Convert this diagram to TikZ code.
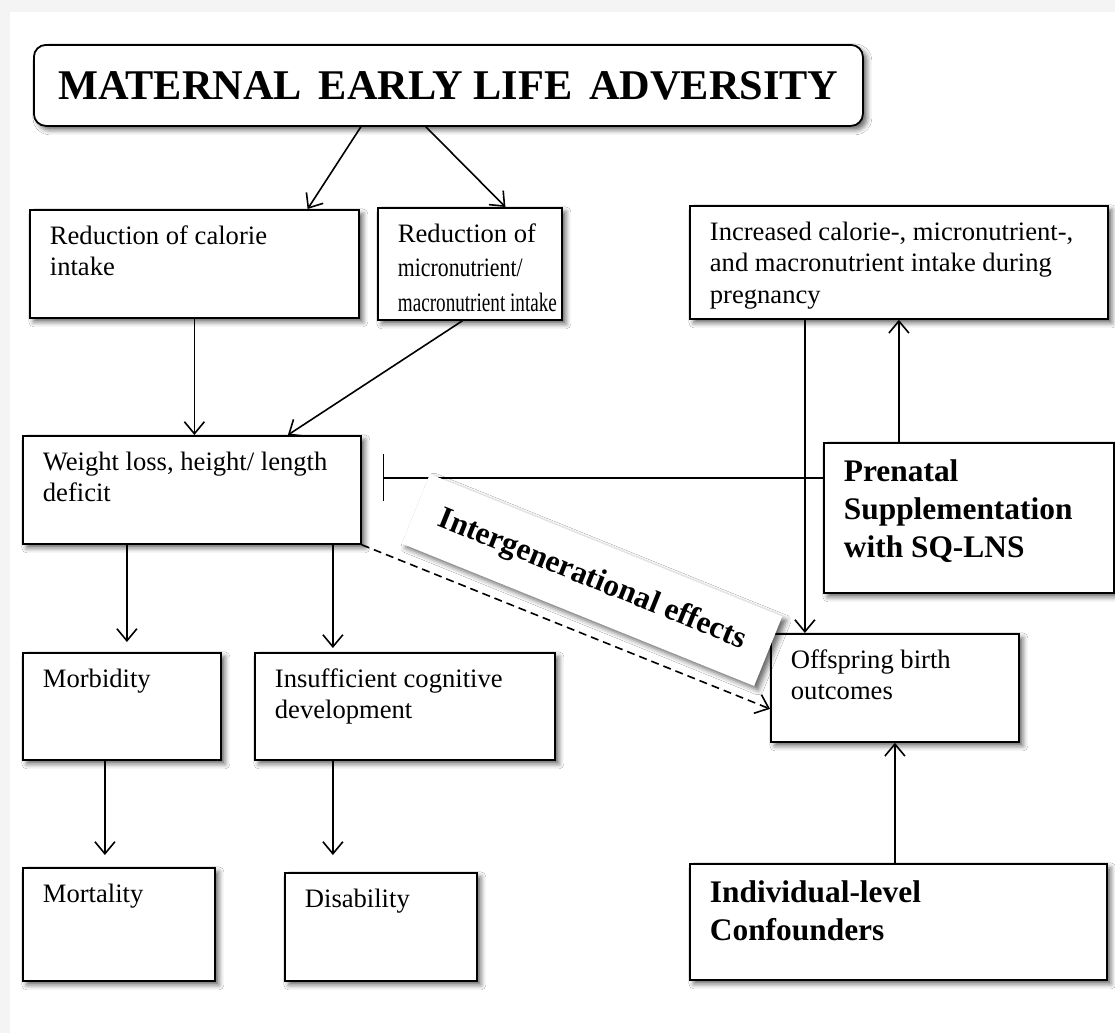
\documentclass[tikz,border=0pt]{standalone}
\usepackage{fontspec}
\setmainfont{Liberation Serif}
\usetikzlibrary{arrows.meta,shadows.blur}
% text of a box: width, height (pt), lines
\newcommand{\cell}[3]{\parbox[t][#2pt][t]{#1pt}{\vspace*{6pt}\begin{tabular}[t]{@{}l@{}}#3\end{tabular}}}
\newcommand{\narrow}[2]{\scalebox{#1}[1]{#2}}
\begin{document}
\begin{tikzpicture}
		[x=0.5pt, y=-0.5pt,
		shade/.style={blur shadow={shadow xshift=2pt, shadow yshift=-2pt, shadow blur radius=2.5pt, shadow opacity=60}},
		box/.style={draw, line width=0.9pt, fill=white, anchor=north west, inner xsep=10pt, inner ysep=0pt,
font=\fontsize{13.3}{15.8}\selectfont, shade},
		boldbox/.style={box, font=\fontsize{15.7}{19}\selectfont\bfseries},
		titlebox/.style={box, rounded corners=6pt, inner sep=0pt, minimum width=414.5pt, minimum height=40.5pt,
font=\fontsize{21.15}{24}\selectfont\bfseries},
		arr/.style={-{Straight Barb[length=6pt,width=10pt]}, line width=0.8pt},
		stop/.style={-{Bar[width=23.5pt]}, line width=0.8pt, shorten >=10.5pt},
		link/.style={arr, dashed, dash pattern=on 4pt off 2.5pt}]
		\useasboundingbox (0,0) rectangle (1115,1033);
		\fill[gray!9] (0,0) rectangle (1115,1033);
		\fill[white] (10,12) rectangle (1115,1033);
		% boxes
		\node at (33,44) (title) [titlebox] {MATERNAL\hspace{0.15em} EARLY LIFE\hspace{0.15em} ADVERSITY};
		\node at (29,209) (calorie) [box] {\cell{144.5}{54}{Reduction of calorie\\intake}};
		\node at (377,207) (micro) [box] {\cell{72}{56}{Reduction of\\[1.5pt]\narrow{0.82}{micronutrient/}\\[1.5pt]\narrow{0.72}{macronutrient intake}}};
		\node at (689,205) (increased) [box] {\cell{189}{56.5}{Increased calorie-, micronutrient-,\\and macronutrient intake during\\pregnancy}};
		\node at (22,435) (weight) [box] {\cell{149}{54}{Weight loss, height/ length\\deficit}};
		\node at (823,442) (prenatal) [boldbox] {\cell{125}{75}{Prenatal\\Supplementation\\with SQ-LNS}};
		\node at (22,652) (morbidity) [box] {\cell{79}{53.5}{Morbidity}};
		\node at (254,652) (cognitive) [box] {\cell{130}{53.5}{Insufficient cognitive\\development}};
		\node at (770,633) (offspring) [box] {\cell{104}{54}{Offspring birth\\outcomes}};
		\node at (22,867) (mortality) [box] {\cell{76}{56.5}{Mortality}};
		\node at (284,872) (disability) [box] {\cell{76}{54}{Disability}};
		\node at (689,863) (confounders) [boldbox] {\cell{188.5}{58}{Individual-level\\Confounders}};
		% arrows
		\draw[arr] ([xshift=-43.75pt]title.south) -- ([xshift=56.6pt]calorie.north);
		\draw[arr] ([xshift=-11.25pt]title.south) -- ([xshift=17.75pt]micro.north);
		\draw[arr] (calorie.south) -- (calorie.south |- weight.north);
		\draw[arr] ([xshift=-3.75pt]micro.south) -- ([xshift=48pt]weight.north);
		\draw[arr, shorten >=5pt] ([xshift=-32.5pt]weight.south) -- ([xshift=-32.5pt]weight.south |- morbidity.north);
		\draw[arr, shorten >=2pt] ([xshift=70.5pt]weight.south) -- ([xshift=70.5pt]weight.south |- cognitive.north);
		\draw[arr, shorten >=6pt] ([xshift=-8.5pt]morbidity.south) -- ([xshift=-8.5pt]morbidity.south |- mortality.north);
		\draw[arr, shorten >=8.5pt] ([xshift=-36pt]cognitive.south) -- ([xshift=-36pt]cognitive.south |- disability.north);
		\draw[arr] ([xshift=-47pt]increased.south) -- ([xshift=-47pt]increased.south |- offspring.north);
		\draw[arr] (increased.south |- prenatal.north) -- (increased.south);
		\draw[arr] (offspring.south |- confounders.north) -- (offspring.south);
		\draw[stop] ([yshift=20pt]prenatal.west) -- ([yshift=20pt]prenatal.west -| weight.east);
		\draw[link] (weight.south east) -- ([yshift=-10.5pt]offspring.west);
		\node at (592,580) (effects) [rotate=-22, fill=white, shade, minimum width=190pt, minimum height=37.5pt,
font=\fontsize{15.7}{19}\selectfont\bfseries] {Intergenerational effects};
	\end{tikzpicture}
\end{document}
